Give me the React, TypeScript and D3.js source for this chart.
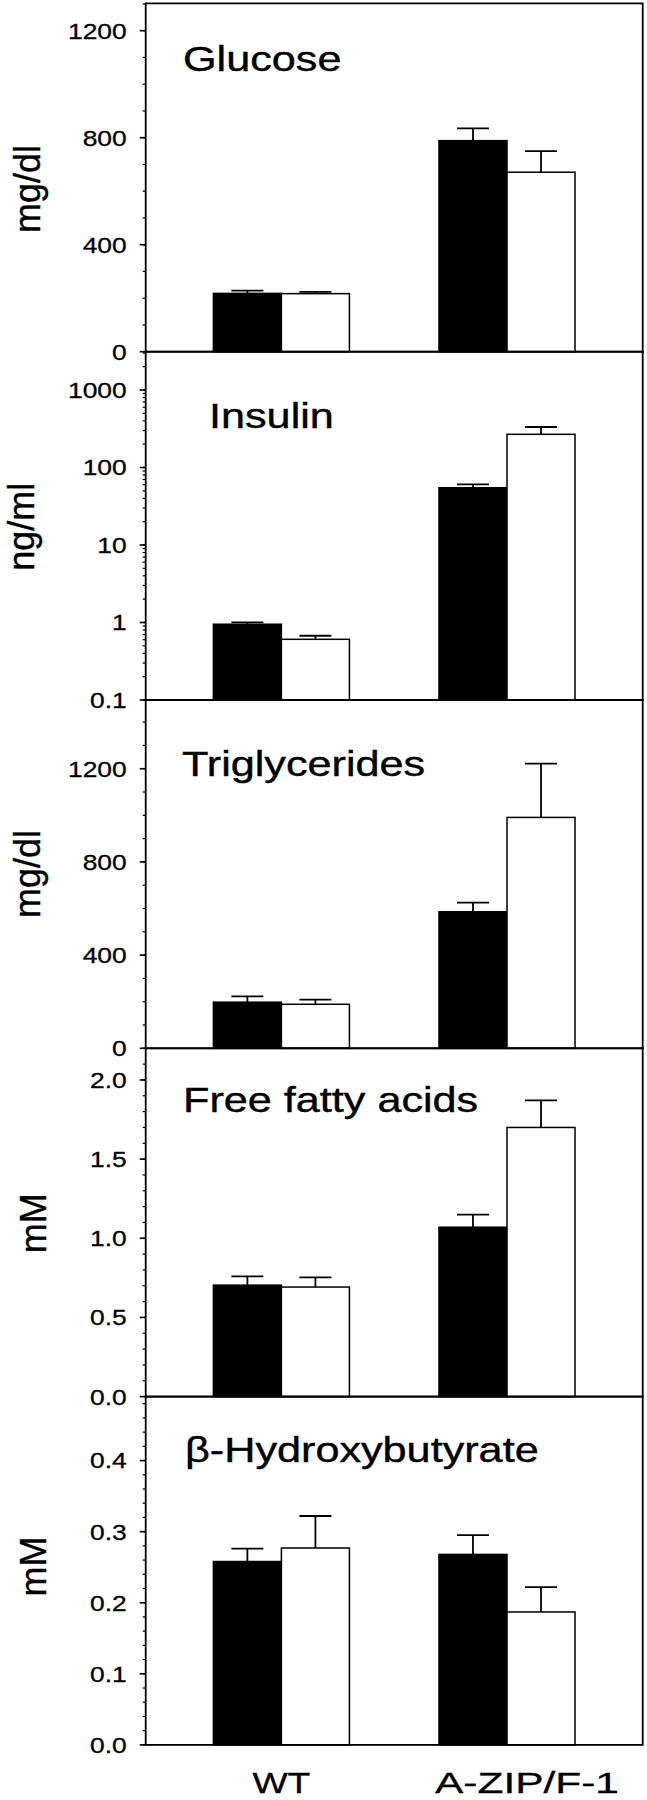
import React from "react";
import * as d3 from "d3";

// ---- data ----
const groups = ["WT", "A-ZIP/F-1"];
const seriesKeys = ["filled", "open"];
const panelTitles = ["Glucose", "Insulin", "Triglycerides", "Free fatty acids", "β-Hydroxybutyrate"];
const yAxisLabels = ["mg/dl", "ng/ml", "mg/dl", "mM", "mM"];

const glucoseFilled = [218, 789];
const glucoseFilledErr = [10, 46];
const glucoseOpen = [217, 671];
const glucoseOpenErr = [7, 79];

const insulinFilled = [0.95, 54.8];
const insulinFilledErr = [0.056, 5.9];
const insulinOpen = [0.607, 268];
const insulinOpenErr = [0.068, 65];

const trigFilled = [198, 586];
const trigFilledErr = [25, 39];
const trigOpen = [189, 991];
const trigOpenErr = [20, 231];

const ffaFilled = [0.704, 1.07];
const ffaFilledErr = [0.055, 0.08];
const ffaOpen = [0.692, 1.7];
const ffaOpenErr = [0.061, 0.171];

const bhbFilled = [0.258, 0.268];
const bhbFilledErr = [0.018, 0.027];
const bhbOpen = [0.277, 0.187];
const bhbOpenErr = [0.045, 0.035];

const glucoseTicks = [0, 400, 800, 1200];
const glucoseTickLabels = ["0", "400", "800", "1200"];
const insulinTicks = [0.1, 1, 10, 100, 1000];
const insulinTickLabels = ["0.1", "1", "10", "100", "1000"];
const trigTicks = [0, 400, 800, 1200];
const trigTickLabels = ["0", "400", "800", "1200"];
const ffaTicks = [0, 0.5, 1.0, 1.5, 2.0];
const ffaTickLabels = ["0.0", "0.5", "1.0", "1.5", "2.0"];
const bhbTicks = [0, 0.1, 0.2, 0.3, 0.4];
const bhbTickLabels = ["0.0", "0.1", "0.2", "0.3", "0.4"];

// ---- layout ----
const W = 647;
const H = 1800;
const LEFT = 145.7;
const RIGHT = 642.7;
const TOP0 = 3.4;
const PH = 348.3;
const FONT = "'Liberation Sans', Arial, Helvetica, sans-serif";
const STRETCH = 1.2;

type Panel = {
  title: string;
  ylabel: string;
  log: boolean;
  domain: [number, number];
  ticks: number[];
  tickLabels: string[];
  minorStep: number;
  filled: number[];
  filledErr: number[];
  open: number[];
  openErr: number[];
  titleX: number;
  titleDy: number;
  labelX: number;
  labelCy: number;
};

const panels: Panel[] = [
  {
    title: panelTitles[0], ylabel: yAxisLabels[0], log: false, domain: [0, 1302],
    ticks: glucoseTicks, tickLabels: glucoseTickLabels, minorStep: 100,
    filled: glucoseFilled, filledErr: glucoseFilledErr, open: glucoseOpen, openErr: glucoseOpenErr,
    titleX: 183, titleDy: 67.3, labelX: 40, labelCy: 185.6,
  },
  {
    title: panelTitles[1], ylabel: yAxisLabels[1], log: true, domain: [0.1, Math.pow(10, 3.494)],
    ticks: insulinTicks, tickLabels: insulinTickLabels, minorStep: 0,
    filled: insulinFilled, filledErr: insulinFilledErr, open: insulinOpen, openErr: insulinOpenErr,
    titleX: 209, titleDy: 76.6, labelX: 34, labelCy: 175,
  },
  {
    title: panelTitles[2], ylabel: yAxisLabels[2], log: false, domain: [0, 1495],
    ticks: trigTicks, tickLabels: trigTickLabels, minorStep: 100,
    filled: trigFilled, filledErr: trigFilledErr, open: trigOpen, openErr: trigOpenErr,
    titleX: 182, titleDy: 76, labelX: 40, labelCy: 174,
  },
  {
    title: panelTitles[3], ylabel: yAxisLabels[3], log: false, domain: [0, 2.2],
    ticks: ffaTicks, tickLabels: ffaTickLabels, minorStep: 0.1,
    filled: ffaFilled, filledErr: ffaFilledErr, open: ffaOpen, openErr: ffaOpenErr,
    titleX: 183, titleDy: 64, labelX: 46, labelCy: 175,
  },
  {
    title: panelTitles[4], ylabel: yAxisLabels[4], log: false, domain: [0, 0.49],
    ticks: bhbTicks, tickLabels: bhbTickLabels, minorStep: 0.02,
    filled: bhbFilled, filledErr: bhbFilledErr, open: bhbOpen, openErr: bhbOpenErr,
    titleX: 185, titleDy: 65, labelX: 46, labelCy: 170,
  },
];

const x = d3.scaleBand<string>().domain(groups).range([LEFT, RIGHT]).paddingInner(0.397).paddingOuter(0.3);
const sub = d3.scaleBand<string>().domain(seriesKeys).range([0, x.bandwidth()]);

// bottom category label extents (layout)
const groupLabelWidth: Record<string, number> = { "WT": 58, "A-ZIP/F-1": 184 };
const groupLabelShift: Record<string, number> = { "WT": 0, "A-ZIP/F-1": 20 };

function minorTicks(p: Panel): number[] {
  const out: number[] = [];
  if (p.log) {
    for (let e = -1; e <= 3; e++) {
      for (let m = 1; m <= 9; m++) {
        const v = m * Math.pow(10, e);
        if (v >= p.domain[0] && v <= p.domain[1] * 1.0001) out.push(v);
      }
    }
    return out;
  }
  const n = Math.floor(p.domain[1] / p.minorStep + 1e-6);
  for (let i = 0; i <= n; i++) out.push(+(i * p.minorStep).toFixed(6));
  return out;
}

function PanelView({ p, idx }: { p: Panel; idx: number }) {
  const top = TOP0 + idx * PH;
  const bottom = top + PH;
  const y: any = p.log
    ? d3.scaleLog().domain(p.domain).range([bottom, top])
    : d3.scaleLinear().domain(p.domain).range([bottom, top]);
  const base = y(p.domain[0]);
  const series = [
    { key: "filled", vals: p.filled, errs: p.filledErr, fill: "#000" },
    { key: "open", vals: p.open, errs: p.openErr, fill: "#fff" },
  ];
  const capW = 32;
  return (
    <g>
      {series.map((s) =>
        groups.map((g, i) => {
          const bx = (x(g) as number) + (sub(s.key) as number);
          const bw = sub.bandwidth();
          const v = s.vals[i];
          const yv = y(v);
          const ye = y(v + s.errs[i]);
          const cx = bx + bw / 2;
          return (
            <g key={s.key + g}>
              <line x1={cx} x2={cx} y1={yv} y2={ye} stroke="#000" strokeWidth={1.8} />
              <line x1={cx - capW / 2} x2={cx + capW / 2} y1={ye} y2={ye} stroke="#000" strokeWidth={1.8} />
              <rect x={bx} y={yv} width={bw} height={base - yv} fill={s.fill} stroke="#000" strokeWidth={1.5} />
            </g>
          );
        })
      )}
      <rect x={LEFT} y={top} width={RIGHT - LEFT} height={PH} fill="none" stroke="#000" strokeWidth={1.8} />
      {minorTicks(p).map((v, i) => (
        <line key={"m" + i} x1={LEFT - 3} x2={LEFT} y1={y(v)} y2={y(v)} stroke="#000" strokeWidth={1.2} />
      ))}
      {p.ticks.map((v, i) => (
        <g key={"t" + i}>
          <line x1={LEFT - 6} x2={LEFT} y1={y(v)} y2={y(v)} stroke="#000" strokeWidth={1.6} />
          <text
            transform={`translate(${LEFT - 19},${y(v) + 7.9}) scale(${STRETCH},1)`}
            textAnchor="end"
            fontSize={22}
            fontFamily={FONT}
            fill="#000"
            stroke="#000"
            strokeWidth={0.3}
          >
            {p.tickLabels[i]}
          </text>
        </g>
      ))}
      <text
        transform={`translate(${p.titleX},${top + p.titleDy}) scale(${STRETCH},1)`}
        fontSize={36}
        fontFamily={FONT}
        fill="#000"
        stroke="#000"
        strokeWidth={0.4}
      >
        {p.title}
      </text>
      <text
        transform={`translate(${p.labelX},${top + p.labelCy}) rotate(-90)`}
        textAnchor="middle"
        fontSize={36}
        fontFamily={FONT}
        fill="#000"
        stroke="#000"
        strokeWidth={0.4}
      >
        {p.ylabel}
      </text>
    </g>
  );
}

export default function App() {
  const lastBottom = TOP0 + panels.length * PH;
  return (
    <svg
      width={W}
      height={H}
      viewBox={`0 0 ${W} ${H}`}
      style={{ position: "absolute", left: 0, top: 0, background: "#fff" }}
    >
      <rect x={0} y={0} width={W} height={H} fill="#fff" />
      {panels.map((p, i) => (
        <PanelView key={i} p={p} idx={i} />
      ))}
      {groups.map((g) => (
        <text
          key={g}
          x={(x(g) as number) + x.bandwidth() / 2 + groupLabelShift[g]}
          y={lastBottom + 48}
          textAnchor="middle"
          fontSize={30}
          fontFamily={FONT}
          fill="#000"
          stroke="#000"
          strokeWidth={0.3}
          textLength={groupLabelWidth[g]}
          lengthAdjust="spacingAndGlyphs"
        >
          {g}
        </text>
      ))}
    </svg>
  );
}
